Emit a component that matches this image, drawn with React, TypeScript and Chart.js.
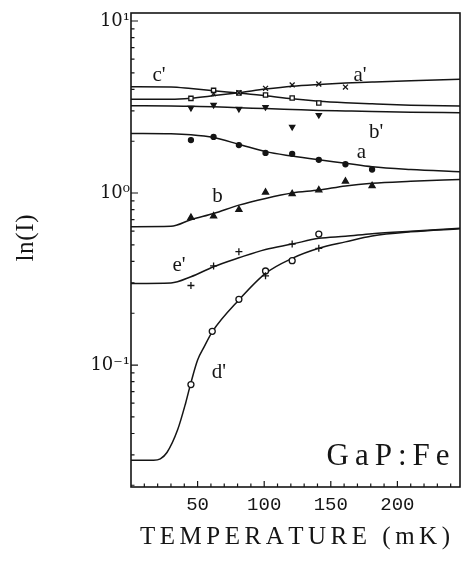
import React, { useEffect, useRef } from 'react';
import { Chart, registerables } from 'chart.js';

Chart.register(...registerables);

// ---- axis ranges ----
const X_MIN = 0;
const X_MAX = 247;
const Y_MIN = 0.01954;
const Y_MAX = 11.13;

// ---- fitted curves (temperature in mK, value) ----
const fitTemps = [0, 30, 45, 62, 81, 101, 121, 141, 161, 181, 210, 247];
const fitAPrime = [3.51, 3.51, 3.56, 3.68, 3.83, 4.02, 4.18, 4.28, 4.36, 4.42, 4.5, 4.58];
const fitCPrime = [4.15, 4.14, 4.05, 3.93, 3.81, 3.68, 3.53, 3.42, 3.35, 3.3, 3.24, 3.2];
const fitBPrime = [3.22, 3.21, 3.19, 3.17, 3.13, 3.1, 3.06, 3.02, 3.0, 2.98, 2.95, 2.93];
const fitA = [2.22, 2.21, 2.18, 2.1, 1.92, 1.74, 1.64, 1.56, 1.49, 1.42, 1.37, 1.33];
const fitB = [0.637, 0.64, 0.7, 0.76, 0.85, 0.93, 1.0, 1.04, 1.1, 1.14, 1.17, 1.2];
const fitEPrime = [0.298, 0.3, 0.326, 0.373, 0.42, 0.47, 0.505, 0.545, 0.56, 0.58, 0.6, 0.623];

const fitTempsD = [0, 17, 22, 27, 35, 41, 45, 50, 55, 61, 81, 101, 121, 141, 161, 181, 210, 247];
const fitDPrime = [0.028, 0.028, 0.0285, 0.031, 0.042, 0.06, 0.079, 0.107, 0.128, 0.156, 0.239, 0.341, 0.417, 0.477, 0.52, 0.563, 0.595, 0.62];

// ---- measured points ----
const ptTemps8 = [45, 62, 81, 101, 121, 141, 161, 181];
const ptA = [2.03, 2.12, 1.9, 1.71, 1.69, 1.56, 1.47, 1.37];
const ptB = [0.72, 0.735, 0.8, 1.01, 0.99, 1.04, 1.17, 1.1];

const ptTempsAPrime = [62, 81, 101, 121, 141, 161];
const ptAPrime = [3.78, 3.83, 4.06, 4.25, 4.3, 4.13];

const ptTemps6 = [45, 62, 81, 101, 121, 141];
const ptCPrime = [3.55, 3.95, 3.81, 3.71, 3.57, 3.34];
const ptBPrime = [3.12, 3.25, 3.08, 3.16, 2.42, 2.84];
const ptEPrime = [0.29, 0.377, 0.456, 0.33, 0.505, 0.477];
const ptTempsD = [45, 61, 81, 101, 121, 141];
const ptDPrime = [0.077, 0.157, 0.241, 0.352, 0.404, 0.577];

// ---- tick labels ----
const xTickLabels = [50, 100, 150, 200];
const yTickValues = [0.1, 1, 10];
const yTickLabels = ['10\u207B\u00B9', '10\u2070', '10\u00B9'];

// ---- curve labels [text, temperature, value] ----
const curveLabels: [string, number, number][] = [
  ["c'", 21, 4.8],
  ["a'", 172, 4.8],
  ["b'", 184, 2.26],
  ['a', 173, 1.73],
  ['b', 65, 0.95],
  ["e'", 36, 0.381],
  ["d'", 66, 0.09],
];

const INK = '#151515';

const zip = (xs: number[], ys: number[]) => xs.map((x, i) => ({ x, y: ys[i] }));

function spacedText(ctx: CanvasRenderingContext2D, text: string, cx: number, cy: number, target: number) {
  const chars = Array.from(text);
  const widths = chars.map((c) => ctx.measureText(c).width);
  const total = widths.reduce((a, b) => a + b, 0);
  const gap = chars.length > 1 ? Math.max(0, (target - total) / (chars.length - 1)) : 0;
  let x = cx - (total + gap * (chars.length - 1)) / 2;
  ctx.textAlign = 'left';
  ctx.textBaseline = 'middle';
  chars.forEach((c, i) => {
    ctx.fillText(c, x, cy);
    x += widths[i] + gap;
  });
}

const overlay = {
  id: 'overlay',
  afterDraw(chart: any) {
    const { ctx, chartArea: ca, scales } = chart;
    const xs = scales.x;
    const ys = scales.y;
    ctx.save();
    ctx.strokeStyle = INK;
    ctx.fillStyle = INK;
    ctx.lineWidth = 1.6;
    ctx.strokeRect(ca.left, ca.top, ca.right - ca.left, ca.bottom - ca.top);

    // x ticks (inward)
    ctx.lineWidth = 1.2;
    ctx.beginPath();
    for (let t = 10; t < X_MAX; t += 10) {
      const px = xs.getPixelForValue(t);
      const len = t % 50 === 0 ? 6 : 3.5;
      ctx.moveTo(px, ca.bottom);
      ctx.lineTo(px, ca.bottom - len);
    }
    // y ticks (inward)
    for (let d = -2; d <= 1; d++) {
      for (let m = 1; m <= 9; m++) {
        const v = m * Math.pow(10, d);
        if (v < Y_MIN || v > Y_MAX) continue;
        const py = ys.getPixelForValue(v);
        const len = m === 1 ? 7 : 3.5;
        ctx.moveTo(ca.left, py);
        ctx.lineTo(ca.left + len, py);
      }
    }
    ctx.stroke();

    // curve labels
    ctx.font = '21px "Liberation Serif"';
    ctx.textAlign = 'center';
    ctx.textBaseline = 'middle';
    curveLabels.forEach(([txt, t, v]) => {
      ctx.fillText(txt, xs.getPixelForValue(t), ys.getPixelForValue(v));
    });

    // sample label
    ctx.font = '31px "Liberation Serif"';
    spacedText(ctx, 'GaP:Fe', ca.right - 72, ys.getPixelForValue(0.0292), 123);

    // x title
    ctx.font = '25px "Liberation Serif"';
    spacedText(ctx, 'TEMPERATURE (mK)', 295, 537, 310);

    // y title
    ctx.save();
    ctx.translate(26, 238);
    ctx.rotate(-Math.PI / 2);
    ctx.font = '25px "Liberation Serif"';
    spacedText(ctx, 'ln(I)', 0, 0, 47);
    ctx.restore();

    ctx.restore();
  },
};

export default function App() {
  const ref = useRef<HTMLCanvasElement | null>(null);

  useEffect(() => {
    document.body.style.margin = '0';
    const canvas = ref.current;
    if (!canvas) return;

    const curve = (xs: number[], ys: number[]) => ({
      data: zip(xs, ys),
      borderColor: INK,
      borderWidth: 1.5,
      pointRadius: 0,
      fill: false,
      cubicInterpolationMode: 'monotone' as const,
      order: 2,
    });
    const pts = (xs: number[], ys: number[], style: string, opts: any = {}) => ({
      data: zip(xs, ys),
      showLine: false,
      pointStyle: style,
      pointRadius: 3,
      borderColor: INK,
      backgroundColor: INK,
      pointBorderWidth: 1.3,
      order: 1,
      ...opts,
    });

    const chart = new Chart(canvas, {
      type: 'line',
      data: {
        datasets: [
          curve(fitTemps, fitAPrime),
          curve(fitTemps, fitCPrime),
          curve(fitTemps, fitBPrime),
          curve(fitTemps, fitA),
          curve(fitTemps, fitB),
          curve(fitTemps, fitEPrime),
          curve(fitTempsD, fitDPrime),
          pts(ptTempsAPrime, ptAPrime, 'crossRot', { pointRadius: 3.5 }),
          pts(ptTemps6, ptCPrime, 'rect', { backgroundColor: '#fff', pointRadius: 3 }),
          pts(ptTemps6, ptBPrime, 'triangle', { pointRotation: 180, pointRadius: 3 }),
          pts(ptTemps8, ptA, 'circle', { pointRadius: 2.5 }),
          pts(ptTemps8, ptB, 'triangle', { pointRadius: 3.5 }),
          pts(ptTemps6, ptEPrime, 'cross', { pointRadius: 3.5 }),
          pts(ptTempsD, ptDPrime, 'circle', { backgroundColor: '#fff', pointRadius: 3 }),
        ] as any,
      },
      options: {
        responsive: false,
        maintainAspectRatio: false,
        animation: false,
        devicePixelRatio: 1,
        layout: { padding: { left: 0, right: 9, top: 13, bottom: 0 } },
        plugins: { legend: { display: false }, tooltip: { enabled: false } },
        scales: {
          x: {
            type: 'linear',
            min: X_MIN,
            max: X_MAX,
            grid: { display: false, drawTicks: false },
            border: { display: false },
            afterBuildTicks: (s: any) => {
              s.ticks = xTickLabels.map((v) => ({ value: v }));
            },
            afterFit: (s: any) => {
              s.height = 74;
            },
            ticks: {
              autoSkip: false,
              maxRotation: 0,
              padding: 7,
              color: INK,
              font: { family: '"Liberation Mono"', size: 19 },
              callback: (v: any) => String(v),
            },
          },
          y: {
            type: 'logarithmic',
            min: Y_MIN,
            max: Y_MAX,
            grid: { display: false, drawTicks: false },
            border: { display: false },
            afterBuildTicks: (s: any) => {
              s.ticks = yTickValues.map((v) => ({ value: v }));
            },
            afterFit: (s: any) => {
              s.width = 131;
            },
            ticks: {
              autoSkip: false,
              padding: 1,
              color: INK,
              font: { family: '"DejaVu Serif"', size: 18 },
              callback: (v: any) => {
                const i = yTickValues.indexOf(Number(v));
                return i >= 0 ? yTickLabels[i] : '';
              },
            },
          },
        },
      },
      plugins: [overlay],
    });
    return () => chart.destroy();
  }, []);

  return (
    <div style={{ width: 469, height: 561, background: '#fff' }}>
      <canvas ref={ref} width={469} height={561} style={{ display: 'block' }} />
    </div>
  );
}
